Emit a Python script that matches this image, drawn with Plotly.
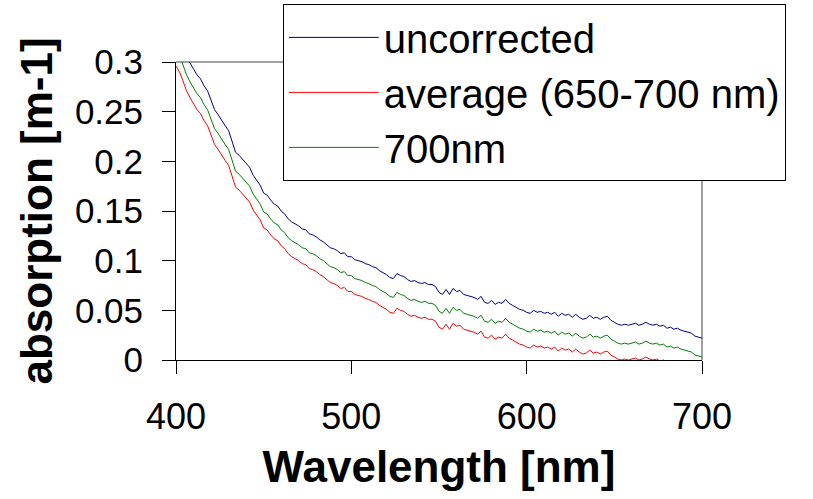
import plotly.graph_objects as go

wavelength = list(range(400, 701, 2))

uncorrected = [
    0.331, 0.325, 0.316, 0.306, 0.299, 0.293, 0.287, 0.283, 0.276, 0.271,
    0.262, 0.252, 0.247, 0.241, 0.236, 0.231, 0.219, 0.209, 0.206, 0.202,
    0.197, 0.194, 0.186, 0.181, 0.176, 0.168, 0.166, 0.161, 0.157, 0.155,
    0.150, 0.147, 0.142, 0.139, 0.137, 0.135, 0.132, 0.131, 0.127, 0.126,
    0.124, 0.121, 0.119, 0.116, 0.113, 0.112, 0.110, 0.107, 0.108, 0.104,
    0.104, 0.101, 0.100, 0.099, 0.097, 0.096, 0.094, 0.093, 0.090, 0.088,
    0.086, 0.083, 0.082, 0.087, 0.085, 0.084, 0.081, 0.079, 0.080, 0.078,
    0.077, 0.078, 0.076, 0.076, 0.074, 0.068, 0.066, 0.071, 0.066, 0.072,
    0.069, 0.070, 0.066, 0.065, 0.064, 0.063, 0.061, 0.064, 0.058, 0.057,
    0.060, 0.056, 0.058, 0.057, 0.061, 0.057, 0.055, 0.053, 0.051, 0.050,
    0.048, 0.047, 0.050, 0.048, 0.049, 0.047, 0.048, 0.046, 0.048, 0.044,
    0.047, 0.045, 0.046, 0.043, 0.046, 0.043, 0.041, 0.042, 0.045, 0.042,
    0.043, 0.041, 0.043, 0.044, 0.040, 0.038, 0.036, 0.035, 0.036, 0.035,
    0.036, 0.037, 0.035, 0.036, 0.038, 0.036, 0.035, 0.036, 0.034, 0.035,
    0.032, 0.033, 0.031, 0.032, 0.030, 0.029, 0.028, 0.027, 0.024, 0.023,
    0.022,
]

average_650_700 = [
    0.296, 0.290, 0.281, 0.271, 0.264, 0.258, 0.252, 0.248, 0.241, 0.236,
    0.227, 0.217, 0.212, 0.206, 0.201, 0.196, 0.184, 0.174, 0.171, 0.167,
    0.162, 0.159, 0.151, 0.146, 0.141, 0.133, 0.131, 0.126, 0.122, 0.120,
    0.115, 0.112, 0.107, 0.104, 0.102, 0.100, 0.097, 0.096, 0.092, 0.091,
    0.089, 0.086, 0.084, 0.081, 0.078, 0.077, 0.075, 0.072, 0.073, 0.069,
    0.069, 0.066, 0.065, 0.064, 0.062, 0.061, 0.059, 0.058, 0.055, 0.053,
    0.051, 0.048, 0.047, 0.052, 0.050, 0.049, 0.046, 0.044, 0.045, 0.043,
    0.042, 0.043, 0.041, 0.041, 0.039, 0.033, 0.031, 0.036, 0.031, 0.037,
    0.034, 0.035, 0.031, 0.030, 0.029, 0.028, 0.026, 0.029, 0.023, 0.022,
    0.025, 0.021, 0.023, 0.022, 0.026, 0.022, 0.020, 0.018, 0.016, 0.015,
    0.013, 0.012, 0.015, 0.013, 0.014, 0.012, 0.013, 0.011, 0.013, 0.009,
    0.012, 0.010, 0.011, 0.008, 0.011, 0.008, 0.006, 0.007, 0.010, 0.007,
    0.008, 0.006, 0.008, 0.009, 0.005, 0.003, 0.001, 0.000, 0.001, 0.000,
    0.001, 0.002, 0.000, 0.001, 0.003, 0.001, 0.000, 0.001, -0.001, 0.000,
    -0.003, -0.002, -0.004, -0.003, -0.005, -0.006, -0.007, -0.008, -0.011, -0.012,
    -0.013,
]

nm700 = [
    0.312, 0.306, 0.297, 0.287, 0.280, 0.274, 0.268, 0.264, 0.257, 0.252,
    0.243, 0.233, 0.228, 0.222, 0.217, 0.212, 0.200, 0.190, 0.187, 0.183,
    0.178, 0.175, 0.167, 0.162, 0.157, 0.149, 0.147, 0.142, 0.138, 0.136,
    0.131, 0.128, 0.123, 0.120, 0.118, 0.116, 0.113, 0.112, 0.108, 0.107,
    0.105, 0.102, 0.100, 0.097, 0.094, 0.093, 0.091, 0.088, 0.089, 0.085,
    0.085, 0.082, 0.081, 0.080, 0.078, 0.077, 0.075, 0.074, 0.071, 0.069,
    0.067, 0.064, 0.063, 0.068, 0.066, 0.065, 0.062, 0.060, 0.061, 0.059,
    0.058, 0.059, 0.057, 0.057, 0.055, 0.049, 0.047, 0.052, 0.047, 0.053,
    0.050, 0.051, 0.047, 0.046, 0.045, 0.044, 0.042, 0.045, 0.039, 0.038,
    0.041, 0.037, 0.039, 0.038, 0.042, 0.038, 0.036, 0.034, 0.032, 0.031,
    0.029, 0.028, 0.031, 0.029, 0.030, 0.028, 0.029, 0.027, 0.029, 0.025,
    0.028, 0.026, 0.027, 0.024, 0.027, 0.024, 0.022, 0.023, 0.026, 0.023,
    0.024, 0.022, 0.024, 0.025, 0.021, 0.019, 0.017, 0.016, 0.017, 0.016,
    0.017, 0.018, 0.016, 0.017, 0.019, 0.017, 0.016, 0.017, 0.015, 0.016,
    0.013, 0.014, 0.012, 0.013, 0.011, 0.010, 0.009, 0.008, 0.005, 0.004,
    0.003,
]

series_names = ["uncorrected", "average (650-700 nm)", "700nm"]
series_colors = ["#000080", "#FF0000", "#008000"]
series_values = [uncorrected, average_650_700, nm700]

x_ticks = [400, 500, 600, 700]
y_ticks = [0, 0.05, 0.1, 0.15, 0.2, 0.25, 0.3]
y_ticktext = ["0", "0.05", "0.1", "0.15", "0.2", "0.25", "0.3"]

FONT = "Liberation Sans, Arial, sans-serif"

fig = go.Figure()
for name, vals, color in zip(series_names, series_values, series_colors):
    fig.add_trace(go.Scatter(x=wavelength, y=vals, mode="lines", name=name,
                             line=dict(color=color, width=1)))

fig.update_layout(
    width=813, height=499,
    margin=dict(l=176, r=111, t=62, b=139, pad=0, autoexpand=False),
    paper_bgcolor="white", plot_bgcolor="white",
    font=dict(family=FONT, color="black"),
    showlegend=True,
    legend=dict(x=0.203, y=1.195, xanchor="left", yanchor="top",
                bgcolor="white", bordercolor="black", borderwidth=1,
                font=dict(size=40, family=FONT, color="black"),
                itemwidth=90, tracegroupgap=0),
    xaxis=dict(range=[400, 700], tickvals=x_ticks, showline=True, automargin=False,
               linecolor="black", linewidth=1, ticks="outside", ticklen=13,
               tickcolor="black", showgrid=False, zeroline=False,
               tickfont=dict(size=36, family=FONT, color="black"),
               ticklabelstandoff=12,
               title=dict(text="Wavelength [nm]", standoff=14,
                          font=dict(size=44, family=FONT, color="black", weight="bold"))),
    yaxis=dict(range=[0, 0.3], tickvals=y_ticks, ticktext=y_ticktext, showline=True,
               automargin=False,
               linecolor="black", linewidth=1, ticks="outside", ticklen=13,
               tickcolor="black", showgrid=False, zeroline=False,
               tickfont=dict(size=35, family=FONT, color="black"),
               ticklabelstandoff=12,
               title=dict(text="absorption [m-1]", standoff=8,
                          font=dict(size=44, family=FONT, color="black", weight="bold"))),
    shapes=[
        dict(type="line", xref="x domain", yref="y domain", x0=0, x1=1, y0=1, y1=1,
             line=dict(color="#A0A0A0", width=2), layer="below"),
        dict(type="line", xref="x domain", yref="y domain", x0=1, x1=1, y0=0, y1=1,
             line=dict(color="#A0A0A0", width=2), layer="below"),
    ],
)

fig.write_html("out.html")
